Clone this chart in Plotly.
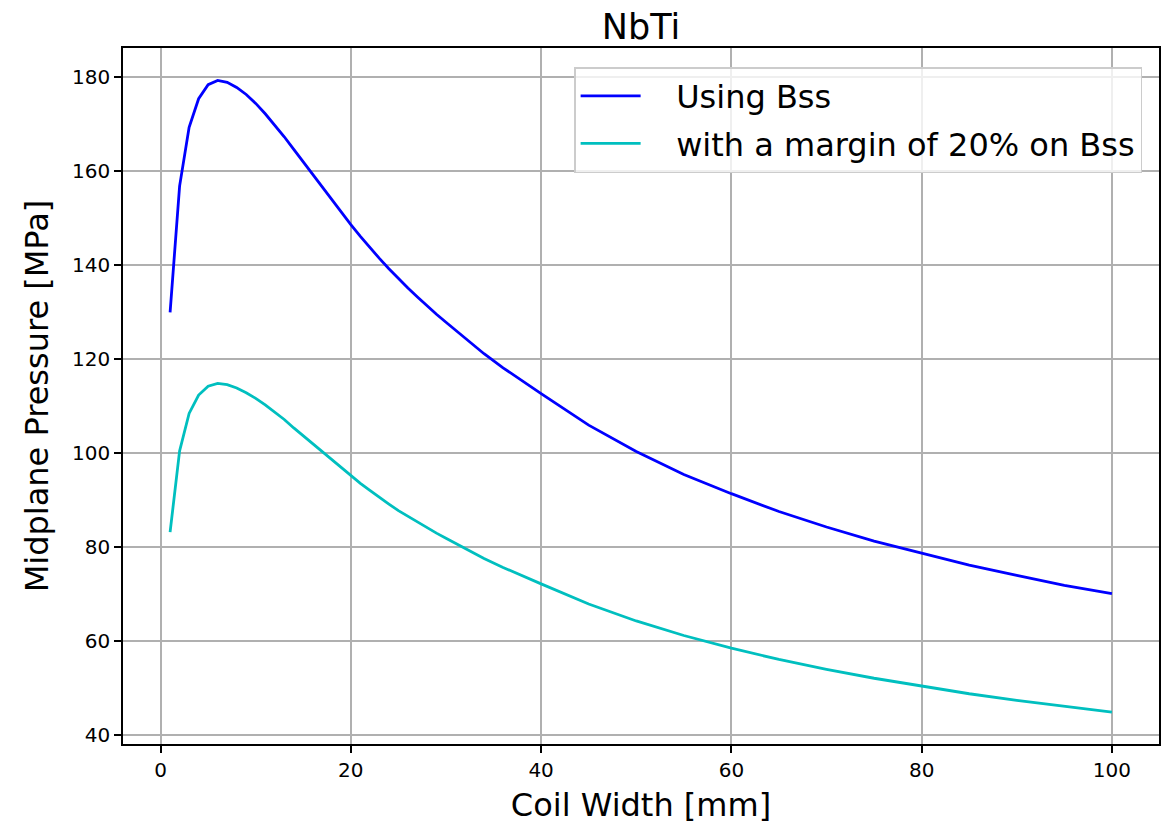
import plotly.graph_objects as go

coil_width = [1, 2, 3, 4, 5, 6, 7, 8, 9, 10, 11, 12, 13, 14, 15, 16, 17, 18, 19, 20,
              21, 22, 23, 24, 25, 26, 27, 28, 29, 30, 32, 34, 36, 38, 40,
              45, 50, 55, 60, 65, 70, 75, 80, 85, 90, 95, 100]
using_bss = [129.9, 156.8, 169.3, 175.4, 178.4, 179.3, 178.9, 177.8, 176.3, 174.4,
             172.2, 169.8, 167.3, 164.6, 161.9, 159.2, 156.5, 153.8, 151.2, 148.6,
             146.1, 143.7, 141.4, 139.2, 137.1, 135.1, 133.2, 131.3, 129.5, 127.8,
             124.4, 121.1, 118.1, 115.3, 112.6,
             105.9, 100.3, 95.4, 91.3, 87.5, 84.2, 81.2, 78.6, 76.1, 73.9, 71.8, 70.0]
margin_20 = [83.1, 100.4, 108.4, 112.3, 114.2, 114.8, 114.5, 113.8, 112.8, 111.6,
             110.2, 108.7, 107.1, 105.3, 103.6, 101.9, 100.2, 98.4, 96.8, 95.1,
             93.5, 92.0, 90.5, 89.1, 87.7, 86.5, 85.2, 84.0, 82.9, 81.8,
             79.6, 77.5, 75.6, 73.8, 72.1,
             67.8, 64.2, 61.1, 58.4, 56.0, 53.9, 52.0, 50.3, 48.7, 47.3, 46.0, 44.8]

x_ticks = [0, 20, 40, 60, 80, 100]
y_ticks = [40, 60, 80, 100, 120, 140, 160, 180]

FONT = "DejaVu Sans"
PAD = "\u00a0\u00a0\u00a0"

fig = go.Figure()
fig.add_trace(go.Scatter(x=coil_width, y=using_bss, mode="lines", name=PAD + "Using Bss",
                         legendgroup="a",
                         line=dict(color="#0000ff", width=2.8)))
fig.add_trace(go.Scatter(x=coil_width, y=margin_20, mode="lines",
                         name=PAD + "with a margin of 20% on Bss", legendgroup="b",
                         line=dict(color="#00bfbf", width=2.8)))

axis_common = dict(
    showline=True, linecolor="black", linewidth=1.6, mirror=True,
    ticks="outside", ticklen=7, tickwidth=1.6, tickcolor="black",
    showgrid=True, gridcolor="#b0b0b0", gridwidth=1.5, zeroline=False,
    tickfont=dict(family=FONT, size=20, color="black"),
)

fig.update_layout(
    width=1163, height=824,
    margin=dict(l=123, r=2, t=48, b=80),
    paper_bgcolor="white", plot_bgcolor="white",
    font=dict(family=FONT, color="black"),
    title=dict(text="NbTi", x=0.5, xref="paper", y=1 - 27 / 824, yref="container",
               xanchor="center", yanchor="middle",
               font=dict(family=FONT, size=35, color="black")),
    xaxis=dict(range=[-3.95, 104.95], tickvals=x_ticks,
               title=dict(text="Coil Width [mm]", font=dict(family=FONT, size=32), standoff=13),
               **axis_common),
    yaxis=dict(range=[38.0, 186.2], tickvals=y_ticks,
               title=dict(text="Midplane Pressure [MPa]", font=dict(family=FONT, size=32), standoff=14),
               **axis_common),
    legend=dict(x=(575 - 123) / 1038, y=1 - (67 - 48) / 696, xanchor="left", yanchor="top",
                bgcolor="rgba(255,255,255,0.8)", bordercolor="#cccccc", borderwidth=1.5,
                font=dict(family=FONT, size=32, color="black"),
                itemwidth=60, tracegroupgap=3, traceorder="grouped"),
    showlegend=True,
)

fig.write_html("out.html")
